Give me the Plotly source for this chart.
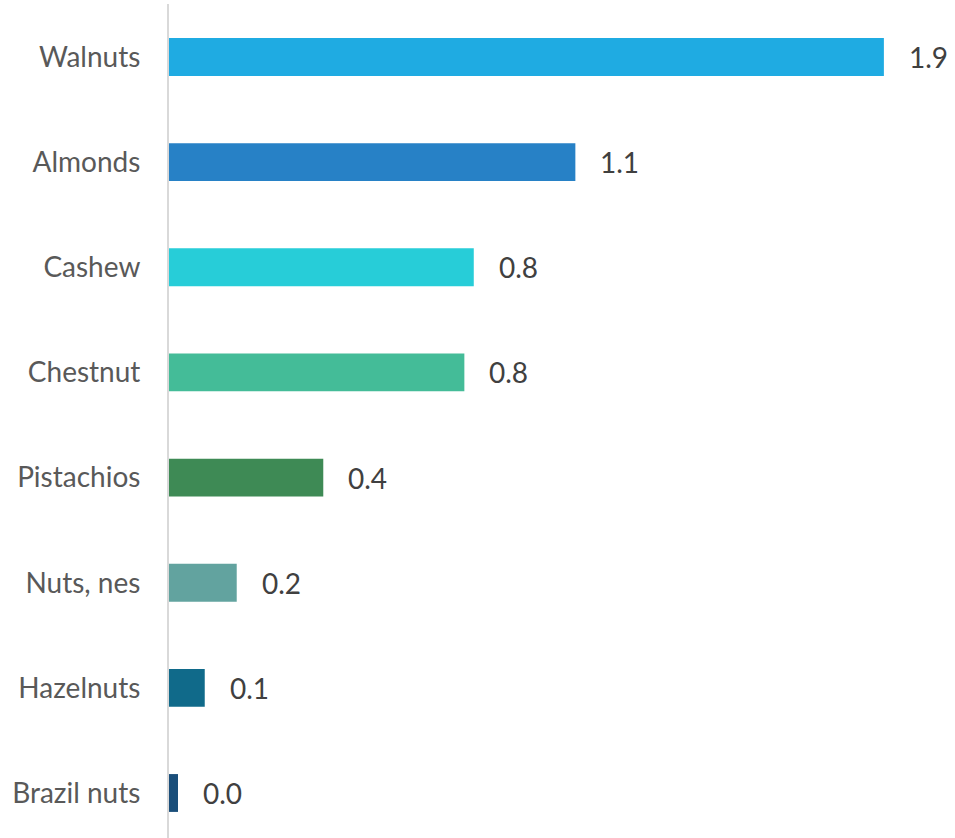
import plotly.graph_objects as go

# Nut categories, top to bottom
categories = ["Walnuts", "Almonds", "Cashew", "Chestnut", "Pistachios",
              "Nuts, nes", "Hazelnuts", "Brazil nuts"]
values = [1.9, 1.08, 0.81, 0.785, 0.41, 0.18, 0.095, 0.024]
bar_colors = ["#1FABE2", "#2781C6", "#27CDD8", "#44BC98", "#3E8A55",
              "#62A39F", "#106A8A", "#1A4E7A"]

FONT = "Lato, 'Open Sans', sans-serif"

fig = go.Figure(
    go.Bar(
        x=values,
        y=categories,
        orientation="h",
        width=0.36,
        marker=dict(color=bar_colors, line=dict(width=0)),
        hoverinfo="skip",
    )
)

# value labels to the right of each bar
for cat, val in zip(categories, values):
    fig.add_annotation(
        x=val, y=cat, xref="x", yref="y",
        text=f"{val:.1f}", showarrow=False,
        xanchor="left", yanchor="middle", xshift=23,
        font=dict(family=FONT, size=28, color="#404040"),
    )

fig.update_layout(
    width=955, height=838,
    margin=dict(l=169, r=0, t=4, b=0),
    paper_bgcolor="white", plot_bgcolor="white",
    showlegend=False,
    xaxis=dict(range=[0, 2.089], visible=False, showgrid=False, zeroline=False),
    yaxis=dict(
        categoryorder="array", categoryarray=categories,
        range=[7.428, -0.504],
        showline=True, linecolor="#D9D9D9", linewidth=2,
        showgrid=False, zeroline=False, ticks="",
        ticklabelstandoff=21,
        tickfont=dict(family=FONT, size=28, color="#595959"),
    ),
)

fig.write_html("out.html")
